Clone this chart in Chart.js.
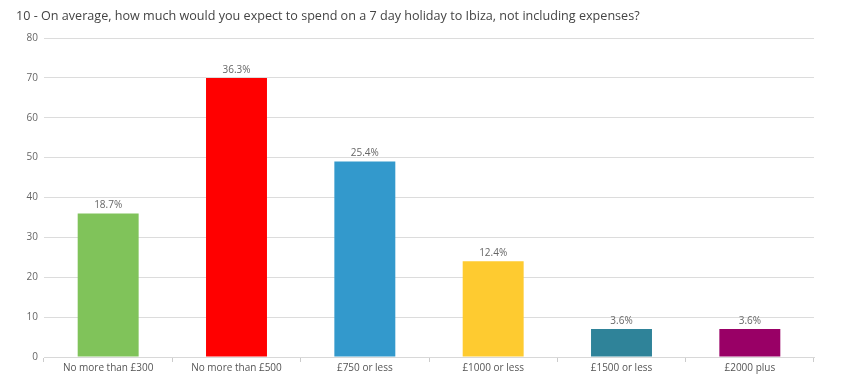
<!DOCTYPE html>
<html>
<head>
<meta charset="utf-8">
<script src="https://cdn.jsdelivr.net/npm/chart.js@4/dist/chart.umd.min.js"></script>
<style>
html,body{margin:0;padding:0;background:#fff;}
#wrap{width:850px;height:390px;position:relative;}
</style>
</head>
<body>
<div id="wrap"><canvas id="c" width="850" height="390"></canvas></div>
<script>
const titleText = "10 - On average, how much would you expect to spend on a 7 day holiday to Ibiza, not including expenses?";
const categories = ["No more than £300", "No more than £500", "£750 or less", "£1000 or less", "£1500 or less", "£2000 plus"];
const counts = [36, 70, 49, 24, 7, 7];
const percentLabels = ["18.7%", "36.3%", "25.4%", "12.4%", "3.6%", "3.6%"];
const barColors = ["#80c35a", "#ff0000", "#3399cc", "#fecb30", "#2f8399", "#990066"];
const yTicks = [0, 10, 20, 30, 40, 50, 60, 70, 80];

const FONT = "'Open Sans', 'DejaVu Sans', sans-serif";

const titlePlugin = {
  id: 'customTitle',
  afterDraw(chart) {
    const ctx = chart.ctx;
    ctx.save();
    ctx.font = "12.6px " + FONT;
    ctx.fillStyle = "#444";
    ctx.textAlign = "left";
    ctx.textBaseline = "middle";
    ctx.fillText(titleText, 16, 16);
    ctx.restore();
  }
};

const valueLabels = {
  id: 'valueLabels',
  afterDatasetsDraw(chart) {
    const ctx = chart.ctx;
    const meta = chart.getDatasetMeta(0);
    ctx.save();
    ctx.font = "10px " + FONT;
    ctx.fillStyle = "#666";
    ctx.textAlign = "center";
    ctx.textBaseline = "bottom";
    meta.data.forEach((bar, i) => {
      ctx.fillText(percentLabels[i], bar.x, bar.y - 3);
    });
    ctx.restore();
  }
};

new Chart(document.getElementById('c'), {
  type: 'bar',
  data: {
    labels: categories,
    datasets: [{
      data: counts,
      backgroundColor: barColors,
      borderWidth: 0,
      barPercentage: 0.475,
      categoryPercentage: 1.0
    }]
  },
  options: {
    responsive: false,
    animation: false,
    devicePixelRatio: 1,
    layout: { padding: { left: 0, right: 36, top: 38, bottom: 0 } },
    plugins: {
      legend: { display: false },
      tooltip: { enabled: false },
      title: { display: false }
    },
    scales: {
      y: {
        min: 0, max: 80,
        afterBuildTicks(scale) { scale.ticks = yTicks.map(v => ({ value: v })); },
        afterFit(scale) { scale.width = 44; },
        ticks: { font: { size: 10, family: FONT }, color: "#666", padding: 6 },
        grid: { color: "#dcdcdc", drawTicks: false, lineWidth: 1 },
        border: { display: false }
      },
      x: {
        afterFit(scale) { scale.height = 33; },
        ticks: { font: { size: 10, family: FONT }, color: "#555", padding: 0, maxRotation: 0, autoSkip: false },
        grid: { offset: true, drawOnChartArea: false, tickLength: 5, color: "#ccc" },
        border: { display: true, color: "#d8d8d8" }
      }
    }
  },
  plugins: [titlePlugin, valueLabels]
});
</script>
</body>
</html>
